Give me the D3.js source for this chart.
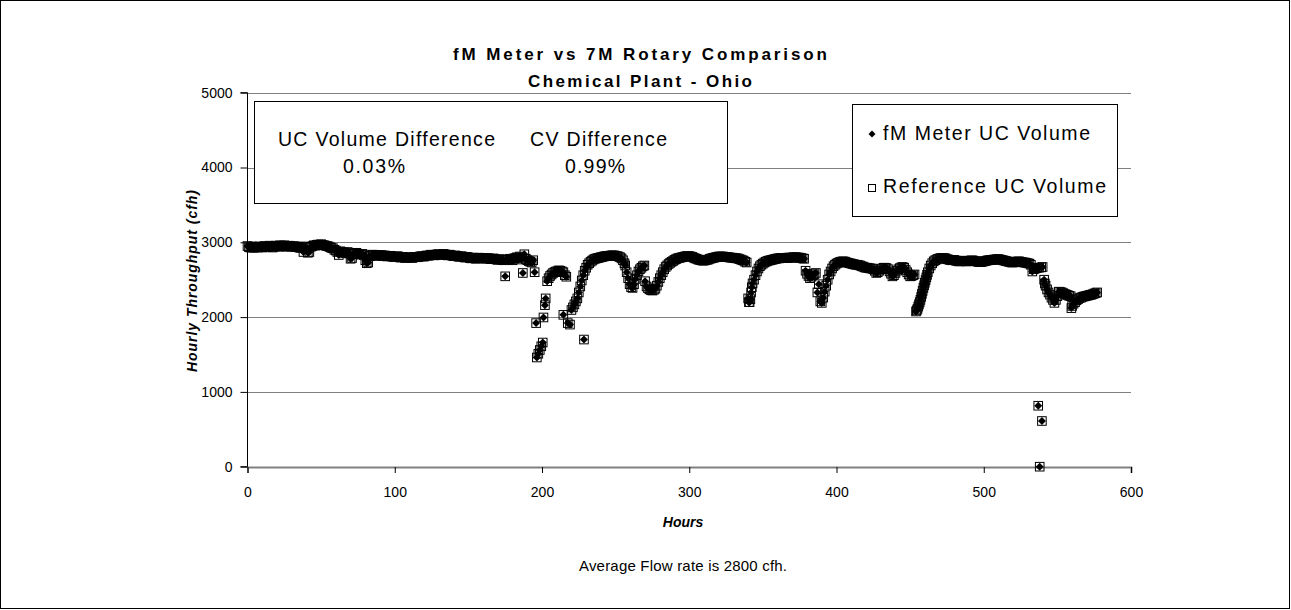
<!DOCTYPE html>
<html>
<head>
<meta charset="utf-8">
<script src="https://cdn.jsdelivr.net/npm/d3@7"></script>
<style>
  html, body { margin: 0; padding: 0; background: #fff; }
  svg { display: block; font-family: "Liberation Sans", Arial, sans-serif; }
</style>
</head>
<body>
<svg id="chart" width="1291" height="610"></svg>
<script>
// ---------------- DATA ----------------
const titleLines = ["fM Meter vs 7M Rotary Comparison", "Chemical Plant  - Ohio"];
const xTicks = [0, 100, 200, 300, 400, 500, 600];
const yTicks = [0, 1000, 2000, 3000, 4000, 5000];
const seriesNames = ["fM Meter UC Volume", "Reference UC Volume"];
const boxLabels = ["UC Volume Difference", "CV Difference"];
const boxValues = ["0.03%", "0.99%"];

// hourly readings, hours 0..195 (hour = position in the list)
const earlyValues = [
  2950,2935,2930,2945,2925,2940,2935,2930,2945,2940,
  2930,2945,2950,2935,2940,2955,2945,2930,2940,2955,
  2950,2940,2960,2955,2945,2960,2950,2940,2955,2950,
  2940,2950,2945,2935,2940,2930,2925,2945,2870,2930,
  2935,2860,2870,2940,2950,2960,2955,2965,2970,2965,
  2975,2965,2960,2955,2950,2945,2935,2925,2920,2900,
  2890,2870,2830,2880,2870,2860,2865,2855,2870,2850,
  2780,2790,2850,2855,2860,2845,2840,2835,2845,2830,
  2760,2720,2730,2815,2820,2835,2830,2820,2825,2830,
  2820,2830,2815,2825,2820,2810,2815,2820,2810,2805,
  2805,2810,2815,2800,2795,2805,2800,2790,2795,2800,
  2800,2795,2790,2800,2805,2800,2805,2810,2815,2810,
  2810,2820,2825,2820,2830,2835,2830,2825,2835,2840,
  2840,2835,2830,2845,2840,2830,2825,2835,2830,2820,
  2815,2825,2820,2810,2805,2815,2810,2800,2795,2805,
  2800,2790,2785,2795,2790,2780,2785,2795,2790,2785,
  2790,2785,2780,2790,2785,2775,2780,2785,2775,2770,
  2765,2775,2770,2765,2760,2545,2770,2765,2780,2775,
  2760,2785,2790,2800,2795,2810,2770,2590,2840,2780,
  2760,2750,2740,2730,2760,2600
];

// later readings as [hour, cfh]
const laterReadings = [
  [196,1920],[196.5,1460],[197.5,1510],[198.5,1560],[199.5,1610],[200.5,1660],[201,1995],[202,2160],
  [202.5,2250],[203.5,2480],[204.5,2520],[205.5,2550],[206.5,2570],[207.5,2590],[208.5,2600],[209.5,2610],
  [210.5,2615],[211.5,2625],[212.5,2620],[213.5,2610],[214.5,2600],[215.5,2560],[214.5,2030],[216.5,2540],
  [217.5,1920],[219,1900],[220,2095],[221,2130],[222,2170],[223,2210],[224,2250],[225,2330],[226,2410],
  [227,2490],[228,2560],[228.5,1700],[229,2620],[230,2660],[231,2700],[232,2720],[233,2740],[234,2755],
  [235,2770],[236,2780],[237,2785],[238,2790],[239,2795],[240,2800],[241,2805],[242,2810],[243,2815],
  [244,2815],[245,2820],[246,2820],[247,2825],[248,2825],[249,2825],[250,2820],[251,2815],[252,2810],
  [253,2800],[254,2785],[255,2760],[256,2720],[256.5,2690],[257.5,2600],[258.5,2520],[259.5,2440],
  [260.5,2400],[261.5,2390],[262.5,2440],[263.5,2510],[264.5,2560],[265.5,2610],[266.5,2640],[267.5,2660],
  [268.5,2680],[269.5,2690],[270,2480],[271,2410],[272,2385],[273,2370],[274,2360],[275,2355],[276,2365],
  [277,2380],[278,2420],[279,2470],[280,2520],[281,2560],[282,2600],[283,2640],[284,2670],[285,2690],
  [286,2710],[287,2725],[288,2740],[289,2750],[290,2765],[291,2775],[292,2785],[293,2790],[294,2795],
  [295,2800],[296,2805],[297,2810],[298,2815],[299,2815],[300,2815],[301,2810],[302,2805],[303,2795],
  [304,2785],[305,2780],[306,2770],[307,2765],[308,2760],[309,2755],[310,2755],[311,2760],[312,2765],
  [313,2770],[314,2780],[315,2785],[316,2790],[317,2795],[318,2800],[319,2805],[320,2810],[321,2810],
  [322,2810],[323,2810],[324,2805],[325,2805],[326,2800],[327,2800],[328,2795],[329,2795],[330,2790],
  [331,2790],[332,2785],[333,2785],[334,2775],[335,2770],[336,2760],[337,2755],[338,2740],[339,2730],
  [340,2250],[340.5,2200],[341,2200],[341.5,2240],[342,2330],[342.5,2400],[343,2450],[344,2500],[345,2560],
  [346,2610],[347,2650],[348,2680],[349,2700],[350,2715],[351,2730],[352,2740],[353,2750],[354,2755],
  [355,2760],[356,2765],[357,2770],[358,2775],[359,2780],[360,2785],[361,2785],[362,2790],[363,2790],
  [364,2790],[365,2790],[366,2790],[367,2795],[368,2795],[369,2795],[370,2795],[371,2800],[372,2800],
  [373,2800],[374,2795],[375,2795],[376,2790],[377,2785],[378,2780],[379,2620],[380,2580],[381,2550],
  [382,2520],[383,2540],[384,2560],[385,2575],[386,2590],[387,2330],[388,2440],[389,2210],[390,2190],
  [391,2260],[392,2340],[393,2420],[394,2500],[395,2570],[396,2610],[397,2650],[398,2680],[399,2700],
  [400,2715],[401,2725],[402,2735],[403,2740],[404,2745],[405,2745],[406,2740],[407,2730],[408,2725],
  [409,2720],[410,2715],[411,2710],[412,2705],[413,2700],[414,2700],[415,2695],[416,2690],[417,2680],
  [418,2675],[419,2665],[420,2660],[421,2660],[422,2655],[423,2650],[424,2650],[425,2640],[426,2620],
  [427,2590],[428,2600],[429,2620],[430,2640],[431,2650],[432,2660],[433,2660],[434,2655],[435,2640],
  [436,2610],[437,2580],[438,2545],[439,2560],[440,2590],[441,2620],[442,2640],[443,2655],[444,2665],
  [445,2670],[446,2660],[447,2630],[448,2600],[449,2570],[450,2545],[451,2550],[452,2560],[453,2570],
  [454,2075],[454.5,2090],[455,2110],[455.5,2140],[456,2170],[456.5,2200],[457,2230],[457.5,2270],
  [458,2310],[458.5,2350],[459,2390],[459.5,2425],[460,2460],[460.5,2495],[461,2530],[461.5,2565],
  [462,2600],[463,2650],[464,2690],[465,2720],[466,2745],[467,2760],[468,2770],[469,2780],[470,2785],
  [471,2790],[472,2790],[473,2790],[474,2785],[475,2775],[476,2770],[477,2765],[478,2760],[479,2760],
  [480,2765],[481,2755],[482,2750],[483,2745],[484,2745],[485,2750],[486,2755],[487,2750],[488,2745],
  [489,2745],[490,2750],[491,2755],[492,2760],[493,2755],[494,2750],[495,2745],[496,2740],[497,2735],
  [498,2735],[499,2740],[500,2745],[501,2750],[502,2755],[503,2760],[504,2760],[505,2765],[506,2765],
  [507,2770],[508,2770],[509,2775],[510,2775],[511,2770],[512,2765],[513,2760],[514,2755],[515,2750],
  [516,2745],[517,2740],[518,2735],[519,2730],[520,2730],[521,2735],[522,2740],[523,2745],[524,2745],
  [525,2740],[526,2735],[527,2730],[528,2730],[529,2725],[530,2720],[531,2715],[532,2700],[533,2610],
  [534,2640],[535,2650],[536,2655],[537,815],[537.5,2660],[538,0],[539.5,611],[539,2665],[540,2670],
  [541,2500],[541.5,2450],[542,2420],[543,2370],[544,2330],[545,2300],[546,2260],[547,2230],[548,2190],
  [549,2230],[550,2280],[551,2340],[552,2335],[553,2330],[554,2320],[555,2310],[556,2300],[557,2295],
  [558,2285],[559,2280],[559.5,2120],[560,2150],[561,2180],[562,2200],[563,2225],[564,2240],[565,2255],
  [566,2260],[567,2270],[568,2275],[569,2280],[570,2285],[571,2290],[572,2295],[573,2300],[574,2305],
  [575,2315],[576,2320],[577,2330]
];

// ---------------- CHART ----------------
const svg = d3.select("#chart");
const W = 1291, H = 610;
const x = d3.scaleLinear().domain([0, 600]).range([247.5, 1131]);
const y = d3.scaleLinear().domain([0, 5000]).range([466.7, 92.7]);

// both series: fM meter and reference read identically at this scale (0.03% apart)
const pts = earlyValues.map((v, i) => ({ h: i, fm: v, ref: v }))
  .concat(laterReadings.map(([h, v]) => ({ h, fm: v, ref: v })));

// outer border
svg.append("rect").attr("x", 0.5).attr("y", 0.5).attr("width", W - 2).attr("height", H - 2)
  .attr("fill", "#fff").attr("stroke", "#000").attr("stroke-width", 1);

// gridlines
svg.append("g").selectAll("line").data(yTicks.filter(d => d > 0)).join("line")
  .attr("x1", x(0)).attr("x2", x(600))
  .attr("y1", d => Math.round(y(d)) + 0.5).attr("y2", d => Math.round(y(d)) + 0.5)
  .attr("stroke", "#808080").attr("stroke-width", 1);

// x axis
const xAxis = d3.axisBottom(x).tickValues(xTicks).tickSize(6).tickPadding(14).tickFormat(d3.format("d"));
const gx = svg.append("g").attr("transform", `translate(0,${Math.round(y(0))})`).call(xAxis);
gx.select(".domain").attr("stroke", "#808080").attr("stroke-width", 2);
gx.selectAll(".tick line").attr("stroke", "#000");
gx.selectAll(".tick text").attr("font-size", 14).attr("font-family", "Liberation Sans, Arial, sans-serif").attr("fill", "#000");

// y axis
const yAxis = d3.axisLeft(y).tickValues(yTicks).tickSize(7).tickPadding(8).tickFormat(d3.format("d"));
const gy = svg.append("g").attr("transform", `translate(${x(0)},0)`).call(yAxis);
gy.select(".domain").attr("stroke", "#000").attr("stroke-width", 1).attr("d", `M-7,${y(5000)}H0V${y(0)}H-7`);
gy.selectAll(".tick line").attr("stroke", "#000");
gy.selectAll(".tick text").attr("font-size", 14).attr("font-family", "Liberation Sans, Arial, sans-serif").attr("fill", "#000");

// data points: fM meter (filled diamonds) then reference (open squares)
const diamond = "M0,-4L4,0L0,4L-4,0Z";
svg.append("g").selectAll("path").data(pts).join("path")
  .attr("d", diamond)
  .attr("transform", d => `translate(${x(d.h)},${y(d.fm)})`)
  .attr("fill", "#000");
svg.append("g").selectAll("rect").data(pts).join("rect")
  .attr("x", d => x(d.h) - 4.3).attr("y", d => y(d.ref) - 4.3)
  .attr("width", 8.6).attr("height", 8.6)
  .attr("fill", "none").attr("stroke", "#000").attr("stroke-width", 1);

// title
svg.append("text").attr("x", 640).attr("y", 60).attr("text-anchor", "middle")
  .attr("font-size", 17).attr("font-weight", "bold")
  .attr("textLength", 374).attr("lengthAdjust", "spacing").text(titleLines[0]);
svg.append("text").attr("x", 640).attr("y", 86.5).attr("text-anchor", "middle")
  .attr("font-size", 17).attr("font-weight", "bold")
  .attr("textLength", 224).attr("lengthAdjust", "spacing").text(titleLines[1]);

// axis titles
svg.append("text").attr("transform", "translate(197,281) rotate(-90)").attr("text-anchor", "middle")
  .attr("font-size", 14).attr("font-weight", "bold").attr("font-style", "italic")
  .attr("textLength", 182).attr("lengthAdjust", "spacing").text("Hourly Throughput (cfh)");
svg.append("text").attr("x", 683).attr("y", 527).attr("text-anchor", "middle")
  .attr("font-size", 14).attr("font-weight", "bold").attr("font-style", "italic")
  .text("Hours");
svg.append("text").attr("x", 683).attr("y", 571).attr("text-anchor", "middle")
  .attr("font-size", 15)
  .attr("textLength", 208).attr("lengthAdjust", "spacing").text("Average Flow rate is 2800 cfh.");

// difference text box
svg.append("rect").attr("x", 254.5).attr("y", 101.5).attr("width", 473).attr("height", 102)
  .attr("fill", "#fff").attr("stroke", "#000").attr("stroke-width", 1);
const boxG = svg.append("g").attr("font-size", 19.5);
boxG.append("text").attr("x", 278).attr("y", 146).attr("textLength", 217).attr("lengthAdjust", "spacing").text(boxLabels[0]);
boxG.append("text").attr("x", 530).attr("y", 146).attr("textLength", 137).attr("lengthAdjust", "spacing").text(boxLabels[1]);
boxG.append("text").attr("x", 343).attr("y", 173).attr("textLength", 62).attr("lengthAdjust", "spacing").text(boxValues[0]);
boxG.append("text").attr("x", 565).attr("y", 173).attr("textLength", 60).attr("lengthAdjust", "spacing").text(boxValues[1]);

// legend
svg.append("rect").attr("x", 852.5).attr("y", 104.5).attr("width", 265).attr("height", 112)
  .attr("fill", "#fff").attr("stroke", "#000").attr("stroke-width", 1);
const lg = svg.append("g").attr("font-size", 19.5);
lg.append("path").attr("d", "M0,-3.5L3.5,0L0,3.5L-3.5,0Z").attr("transform", "translate(872,134)").attr("fill", "#000");
lg.append("text").attr("x", 883).attr("y", 140).attr("textLength", 207).attr("lengthAdjust", "spacing").text(seriesNames[0]);
lg.append("rect").attr("x", 868.5).attr("y", 184.5).attr("width", 7).attr("height", 7)
  .attr("fill", "#fff").attr("stroke", "#000").attr("stroke-width", 1);
lg.append("text").attr("x", 883).attr("y", 193).attr("textLength", 223).attr("lengthAdjust", "spacing").text(seriesNames[1]);
</script>
</body>
</html>
